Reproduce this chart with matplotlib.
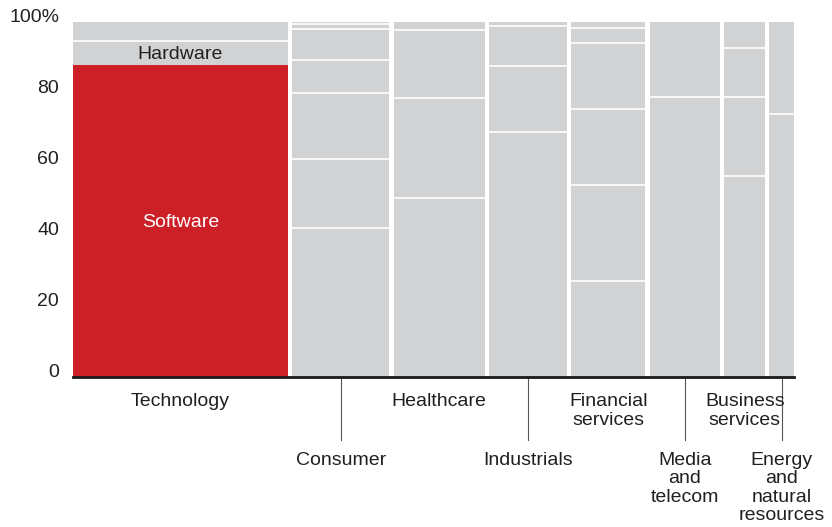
"""Marimekko of deal share by sector, Technology split into software and hardware."""

import matplotlib

matplotlib.use("Agg")
import matplotlib.pyplot as plt
import numpy as np

plt.rcParams["font.family"] = ["Liberation Sans", "DejaVu Sans"]

# column labels, widths (% of total) and stacked segment heights (bottom to top)
sectors = [
    "Technology",
    "Consumer",
    "Healthcare",
    "Industrials",
    "Financial\nservices",
    "Media\nand\ntelecom",
    "Business\nservices",
    "Energy\nand\nnatural\nresources",
]
label_row = [0, 1, 0, 1, 0, 1, 0, 1]
shares = [30.2, 14.0, 13.2, 11.3, 10.8, 10.3, 6.2, 4.0]

technology = [88.0, 6.7, 5.3]
consumer = [42.0, 19.5, 18.5, 9.2, 8.7, 1.5, 0.6]
healthcare = [50.5, 28.2, 19.1, 2.2]
industrials = [69.0, 18.6, 11.2, 1.2]
financial = [27.0, 27.0, 21.5, 18.5, 4.2, 1.8]
media = [79.0, 21.0]
business = [56.5, 22.3, 13.8, 7.4]
energy = [74.0, 26.0]
segments = [technology, consumer, healthcare, industrials,
            financial, media, business, energy]

yticks = [0, 20, 40, 60, 80, 100]
ytick_labels = ["0", "20", "40", "60", "80", "100%"]

RED = "#cc1f26"
GREY = "#d1d2d4"
TEXT = "#231f20"
GAP = 0.62

fig = plt.figure(figsize=(8.32, 5.27), dpi=100)
ax = fig.add_axes([73 / 832, 1 - 377 / 527, 721 / 832, 355 / 527])

lefts = np.concatenate([[0], np.cumsum(shares)[:-1]])
for i, (left, share, segs) in enumerate(zip(lefts, shares, segments)):
    width = share - GAP
    bottoms = np.concatenate([[0], np.cumsum(segs)[:-1]])
    for j, (b, h) in enumerate(zip(bottoms, segs)):
        color = RED if (i == 0 and j == 0) else GREY
        ax.bar(left, h, width=width, bottom=b, align="edge",
               color=color, linewidth=0)
        if j > 0 and not (i == 0 and j == 1):
            ax.hlines(b, left, left + width, color="white", lw=1.2)

    centre = left + width / 2
    if label_row[i] == 0:
        ax.text(centre, -4.6, sectors[i], ha="center", va="top",
                fontsize=14, color=TEXT, linespacing=1.15, clip_on=False)
    else:
        ax.plot([centre, centre], [0, -17.7], color="#555555", lw=0.8,
                clip_on=False)
        ax.text(centre, -21.0, sectors[i], ha="center", va="top",
                fontsize=14, color=TEXT, linespacing=1.12, clip_on=False)

# labels inside the technology column
tech_w = shares[0] - GAP
ax.text(tech_w / 2, technology[0] / 2, "Software", ha="center",
        va="center_baseline", fontsize=14, color="white")
ax.text(tech_w / 2, technology[0] + technology[1] / 2, "Hardware",
        ha="center", va="center_baseline", fontsize=14, color=TEXT)

ax.set_xlim(0, 100 - GAP)
ax.set_ylim(0, 100)
ax.set_xticks([])
ax.set_yticks(yticks)
ax.set_yticklabels(ytick_labels, fontsize=14, color=TEXT)
for lbl in ax.get_yticklabels():
    lbl.set_verticalalignment("baseline")
ax.tick_params(axis="y", length=0, pad=10)

for side in ["top", "right", "left"]:
    ax.spines[side].set_visible(False)
ax.spines["bottom"].set_linewidth(2.0)
ax.spines["bottom"].set_color("#1a1a1a")

fig.savefig("out.png", dpi=100)
